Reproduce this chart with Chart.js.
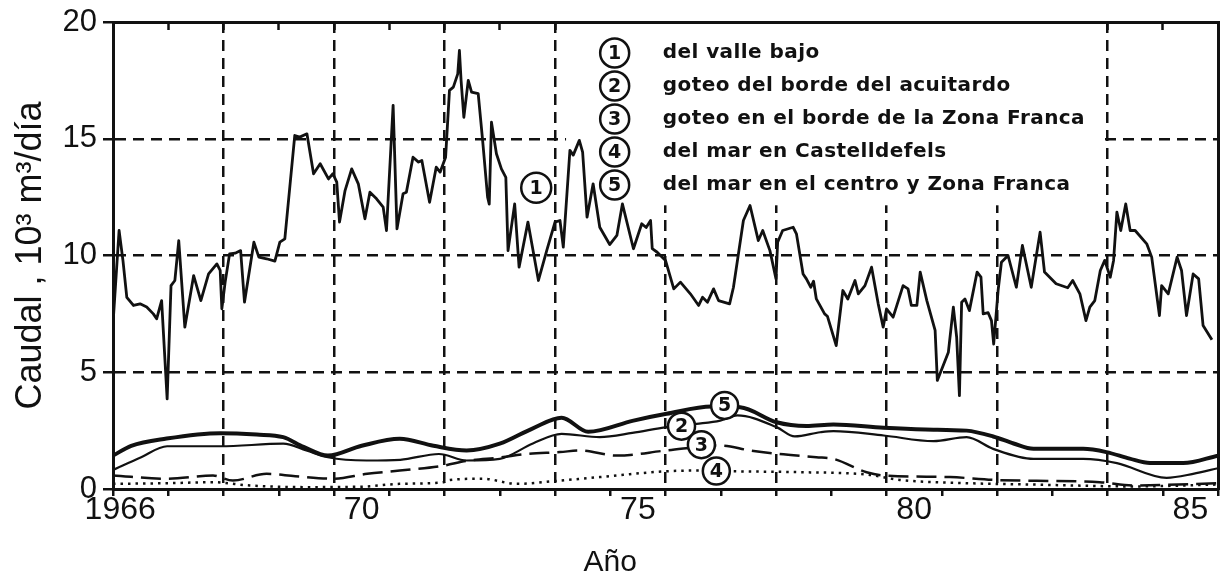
<!DOCTYPE html>
<html>
<head>
<meta charset="utf-8">
<script src="https://cdn.jsdelivr.net/npm/chart.js@4.4.1/dist/chart.umd.min.js"></script>
<style>
  html, body { margin: 0; padding: 0; background: #fff; }
  #wrap { width: 1221px; height: 575px; }
</style>
</head>
<body>
<div id="wrap"><canvas id="caudalChart" width="1221" height="575"></canvas></div>
<script>
// ---- data ----
// 1: del valle bajo (monthly, jagged)
const valleYears = [
  1966.00, 1966.11, 1966.18, 1966.25, 1966.37, 1966.49, 1966.61, 1966.73, 1966.79, 1966.88, 1966.98,
  1967.05, 1967.12, 1967.19, 1967.30, 1967.46, 1967.59, 1967.73, 1967.88, 1967.94, 1967.97,
  1968.03, 1968.11, 1968.21, 1968.31, 1968.38, 1968.55, 1968.64, 1968.78, 1968.93,
  1969.02, 1969.11, 1969.29, 1969.38, 1969.51, 1969.63, 1969.75, 1969.90, 1969.98,
  1970.05, 1970.10, 1970.20, 1970.32, 1970.44, 1970.56, 1970.65, 1970.77, 1970.89, 1970.95,
  1971.07, 1971.14, 1971.25, 1971.31, 1971.43, 1971.53, 1971.59, 1971.73, 1971.85, 1971.92,
  1972.02, 1972.09, 1972.16, 1972.24, 1972.27, 1972.30, 1972.35, 1972.43, 1972.49, 1972.61, 1972.69, 1972.78, 1972.81, 1972.85, 1972.94,
  1973.03, 1973.11, 1973.15, 1973.27, 1973.35, 1973.51, 1973.70, 1973.85,
  1974.00, 1974.09, 1974.15, 1974.27, 1974.33, 1974.44, 1974.50, 1974.58, 1974.69, 1974.81, 1974.99,
  1975.12, 1975.22, 1975.42, 1975.57, 1975.65, 1975.73, 1975.76, 1975.85,
  1976.00, 1976.15, 1976.27, 1976.45, 1976.60, 1976.67, 1976.76, 1976.87, 1976.96,
  1977.16, 1977.23, 1977.41, 1977.53, 1977.68, 1977.76, 1977.89,
  1978.00, 1978.03, 1978.12, 1978.31, 1978.37, 1978.49, 1978.55, 1978.63, 1978.68, 1978.73, 1978.88, 1978.93,
  1979.09, 1979.21, 1979.30, 1979.43, 1979.49, 1979.61, 1979.73, 1979.85, 1979.94,
  1980.00, 1980.12, 1980.30, 1980.39, 1980.45, 1980.55, 1980.61, 1980.73, 1980.88, 1980.92,
  1981.12, 1981.21, 1981.27, 1981.32, 1981.36, 1981.42, 1981.50, 1981.64, 1981.71, 1981.75, 1981.84, 1981.90, 1981.94,
  1982.02, 1982.08, 1982.20, 1982.35, 1982.46, 1982.62, 1982.78, 1982.86,
  1983.07, 1983.28, 1983.37, 1983.50, 1983.61, 1983.68, 1983.77, 1983.87, 1983.95,
  1984.05, 1984.11, 1984.17, 1984.24, 1984.33, 1984.41, 1984.50, 1984.71, 1984.80, 1984.94, 1984.98,
  1985.10, 1985.26, 1985.34, 1985.43, 1985.55, 1985.65, 1985.73, 1985.89
];
const valleFlow = [
  7.07, 11.07, 9.79, 8.21, 7.86, 7.93, 7.79, 7.50, 7.29, 8.07, 3.86,
  8.71, 8.93, 10.64, 6.93, 9.14, 8.07, 9.21, 9.64, 9.36, 7.72,
  8.86, 10.07, 10.10, 10.21, 8.00, 10.57, 9.93, 9.86, 9.76,
  10.57, 10.71, 15.14, 15.07, 15.21, 13.50, 13.93, 13.28, 13.50,
  13.14, 11.43, 12.78, 13.71, 13.07, 11.57, 12.71, 12.43, 12.07, 11.07,
  16.43, 11.14, 12.64, 12.71, 14.21, 14.00, 14.07, 12.28, 13.78, 13.57,
  14.21, 17.07, 17.21, 17.78, 18.78, 17.50, 15.92, 17.50, 17.00, 16.93, 14.93, 12.50, 12.20, 15.71, 14.36,
  13.71, 13.35, 10.21, 12.21, 9.50, 11.43, 8.93, 10.21,
  11.43, 11.50, 10.36, 14.50, 14.30, 14.93, 14.43, 11.64, 13.07, 11.21, 10.47,
  10.86, 12.21, 10.29, 11.36, 11.20, 11.50, 10.29, 10.14,
  9.79, 8.57, 8.86, 8.36, 7.86, 8.21, 8.00, 8.57, 8.07,
  7.93, 8.64, 11.50, 12.14, 10.64, 11.07, 10.21,
  9.00, 10.57, 11.07, 11.21, 10.93, 9.21, 9.00, 8.64, 8.90, 8.14, 7.50, 7.40,
  6.14, 8.50, 8.14, 8.93, 8.36, 8.71, 9.50, 7.93, 6.93,
  7.71, 7.36, 8.71, 8.57, 7.86, 7.86, 9.29, 8.07, 6.79, 4.65,
  5.86, 7.79, 6.50, 4.00, 8.00, 8.14, 7.64, 9.29, 9.07, 7.50, 7.55, 7.21, 6.21,
  8.50, 9.71, 10.00, 8.64, 10.43, 8.64, 11.00, 9.29,
  8.79, 8.62, 8.93, 8.36, 7.21, 7.79, 8.07, 9.36, 9.79,
  9.07, 9.79, 11.86, 11.07, 12.21, 11.07, 11.07, 10.50, 9.93, 7.43, 8.71,
  8.36, 9.93, 9.36, 7.43, 9.21, 9.00, 7.00, 6.39
];

// 2: goteo del borde del acuitardo (thin solid)
const acuitardoYears = [1966.0, 1966.5, 1966.98, 1967.94, 1969.08, 1969.5, 1969.89, 1970.59, 1971.2, 1971.9, 1972.4, 1973.0, 1973.6, 1974.12, 1974.81, 1975.4, 1976.02, 1976.56, 1976.99, 1977.3, 1978.01, 1978.34, 1978.8, 1979.04, 1979.95, 1980.85, 1981.45, 1981.93, 1982.66, 1983.56, 1984.17, 1985.07, 1985.55, 1986.0];
const acuitardoFlow = [0.82, 1.35, 1.83, 1.83, 1.94, 1.65, 1.36, 1.22, 1.25, 1.5, 1.22, 1.29, 1.95, 2.36, 2.22, 2.4, 2.65, 2.79, 2.93, 3.15, 2.65, 2.25, 2.43, 2.48, 2.29, 2.05, 2.22, 1.72, 1.29, 1.29, 1.11, 0.48, 0.65, 0.89];

// 3: goteo en el borde de la Zona Franca (dashed)
const zonaFrancaYears = [1966.0, 1966.98, 1967.81, 1968.17, 1968.78, 1969.3, 1969.98, 1970.6, 1971.19, 1971.98, 1972.4, 1973.0, 1973.5, 1974.09, 1974.45, 1975.12, 1976.02, 1976.99, 1977.53, 1978.01, 1978.73, 1979.04, 1979.64, 1979.95, 1981.15, 1981.93, 1983.86, 1984.46, 1986.0];
const zonaFrancaFlow = [0.58, 0.44, 0.58, 0.36, 0.65, 0.55, 0.44, 0.65, 0.79, 1.0, 1.2, 1.35, 1.5, 1.58, 1.65, 1.43, 1.65, 1.86, 1.65, 1.51, 1.36, 1.29, 0.72, 0.58, 0.51, 0.39, 0.29, 0.15, 0.25];

// 4: del mar en Castelldefels (dotted)
const castelldefelsYears = [1966.0, 1967.0, 1967.81, 1968.48, 1969.5, 1970.5, 1971.19, 1971.98, 1972.1, 1972.7, 1973.3, 1974.09, 1974.81, 1976.02, 1976.62, 1977.23, 1978.43, 1979.64, 1980.24, 1981.45, 1982.66, 1984.46, 1986.0];
const castelldefelsFlow = [0.22, 0.25, 0.29, 0.15, 0.08, 0.1, 0.22, 0.29, 0.39, 0.44, 0.22, 0.36, 0.51, 0.76, 0.79, 0.76, 0.72, 0.62, 0.39, 0.25, 0.19, 0.11, 0.19];

// 5: del mar en el centro y Zona Franca (thick solid)
const centroYears = [1966.0, 1966.33, 1966.97, 1967.94, 1968.6, 1969.08, 1969.45, 1969.89, 1970.5, 1971.19, 1971.8, 1972.4, 1973.0, 1973.6, 1974.12, 1974.6, 1975.42, 1976.02, 1976.84, 1977.35, 1978.01, 1978.55, 1979.04, 1979.95, 1980.7, 1981.45, 1981.93, 1982.3, 1982.66, 1983.56, 1983.98, 1984.4, 1984.77, 1985.37, 1986.0];
const centroFlow = [1.43, 1.85, 2.16, 2.39, 2.33, 2.22, 1.8, 1.43, 1.85, 2.15, 1.85, 1.65, 1.94, 2.6, 3.05, 2.45, 2.93, 3.22, 3.53, 3.5, 2.86, 2.7, 2.76, 2.62, 2.55, 2.5, 2.25, 1.95, 1.72, 1.72, 1.58, 1.3, 1.11, 1.11, 1.43];

// key texts and axis labels
const keyTexts = [
  'del valle bajo',
  'goteo del borde del acuitardo',
  'goteo en el borde de la Zona Franca',
  'del mar en Castelldefels',
  'del mar en el centro y Zona Franca'
];
const yearLabelPos = [1966.13, 1970.5, 1975.5, 1980.5, 1985.5];
const yearLabels = ['1966', '70', '75', '80', '85'];
const yTickValues = [0, 5, 10, 15, 20];

// circled series numbers placed on the plot: [year, value, label]
const tagYears = [1973.66, 1977.07, 1976.29, 1976.65, 1976.92];
const tagValues = [12.9, 3.58, 2.69, 1.9, 0.77];
const tagLabels = ['1', '5', '2', '3', '4'];

// ---- styling ----
const INK = '#111';
const NONE = 'rgba(0,0,0,0)';
const GRID_DASH = [11, 7];
const FONT = 'Liberation Sans';

const toPoints = (xs, ys) => xs.map((x, i) => ({ x: x, y: ys[i] }));

const circled = (ctx, cx, cy, label, r) => {
  ctx.beginPath();
  ctx.arc(cx, cy, r, 0, Math.PI * 2);
  ctx.fillStyle = '#fff';
  ctx.fill();
  ctx.lineWidth = 2.5;
  ctx.strokeStyle = INK;
  ctx.stroke();
  ctx.fillStyle = INK;
  ctx.font = 'bold 19px "DejaVu Sans"';
  ctx.textAlign = 'center';
  ctx.textBaseline = 'middle';
  ctx.fillText(label, cx, cy + 1);
};

const keyPlugin = {
  id: 'keyPlugin',
  beforeDatasetsDraw(chart) {
    const { ctx, chartArea, scales } = chart;
    const x = scales.x;
    const y = scales.y;
    // white panel that interrupts the grid behind the key
    const left = x.getPixelForValue(1974.2);
    const right = x.getPixelForValue(1983.85);
    const bottom = y.getPixelForValue(12.15);
    ctx.save();
    ctx.fillStyle = '#fff';
    ctx.fillRect(left, chartArea.top + 2, right - left, bottom - chartArea.top - 2);

    const cx = x.getPixelForValue(1975.08);
    const tx = x.getPixelForValue(1975.95);
    ctx.font = 'bold 20px "DejaVu Sans"';
    const longest = keyTexts[2];
    const natural = ctx.measureText(longest).width;
    const spacing = Math.max(0, (422 - natural) / (longest.length - 1));
    keyTexts.forEach((txt, i) => {
      const cy = chartArea.top + 31 + i * 33;
      circled(ctx, cx, cy, String(i + 1), 14.5);
      ctx.font = 'bold 20px "DejaVu Sans"';
      ctx.textAlign = 'left';
      ctx.textBaseline = 'middle';
      ctx.fillStyle = INK;
      ctx.letterSpacing = spacing.toFixed(2) + 'px';
      ctx.fillText(txt, tx, cy);
      ctx.letterSpacing = '0px';
    });
    ctx.restore();
  },
  afterDatasetsDraw(chart) {
    const { ctx, scales } = chart;
    ctx.save();
    tagLabels.forEach((label, i) => {
      const px = scales.x.getPixelForValue(tagYears[i]);
      const py = scales.y.getPixelForValue(tagValues[i]);
      circled(ctx, px, py, label, i === 0 ? 15 : 13.5);
    });
    // x-axis title, centred under 1975 as in the original
    ctx.fillStyle = INK;
    ctx.font = '30px "' + FONT + '"';
    ctx.textAlign = 'center';
    ctx.textBaseline = 'alphabetic';
    ctx.fillText('Año', scales.x.getPixelForValue(1975), 571);
    ctx.restore();
  }
};

const ctx = document.getElementById('caudalChart').getContext('2d');

new Chart(ctx, {
  type: 'line',
  data: {
    datasets: [
      {
        label: 'del valle bajo',
        data: toPoints(valleYears, valleFlow),
        borderColor: INK,
        borderWidth: 2.8,
        tension: 0,
        borderJoinStyle: 'round',
        xAxisID: 'x',
        yAxisID: 'y'
      },
      {
        label: 'goteo del borde del acuitardo',
        data: toPoints(acuitardoYears, acuitardoFlow),
        borderColor: INK,
        borderWidth: 2.2,
        cubicInterpolationMode: 'monotone',
        xAxisID: 'x',
        yAxisID: 'y'
      },
      {
        label: 'goteo en el borde de la Zona Franca',
        data: toPoints(zonaFrancaYears, zonaFrancaFlow),
        borderColor: INK,
        borderWidth: 2.5,
        borderDash: [20, 8],
        cubicInterpolationMode: 'monotone',
        xAxisID: 'x',
        yAxisID: 'y'
      },
      {
        label: 'del mar en Castelldefels',
        data: toPoints(castelldefelsYears, castelldefelsFlow),
        borderColor: INK,
        borderWidth: 2.5,
        borderDash: [2.5, 5],
        cubicInterpolationMode: 'monotone',
        xAxisID: 'x',
        yAxisID: 'y'
      },
      {
        label: 'del mar en el centro y Zona Franca',
        data: toPoints(centroYears, centroFlow),
        borderColor: INK,
        borderWidth: 4,
        cubicInterpolationMode: 'monotone',
        xAxisID: 'x',
        yAxisID: 'y'
      }
    ]
  },
  options: {
    responsive: false,
    animation: false,
    devicePixelRatio: 1,
    layout: { padding: 0 },
    elements: { point: { radius: 0 } },
    plugins: {
      legend: { display: false },
      tooltip: { enabled: false }
    },
    scales: {
      x: {
        type: 'linear',
        position: 'bottom',
        min: 1966,
        max: 1986,
        afterBuildTicks: (axis) => {
          const ticks = [];
          for (let yr = 1966; yr <= 1986; yr++) ticks.push({ value: yr });
          yearLabelPos.forEach(v => ticks.push({ value: v }));
          ticks.sort((a, b) => a.value - b.value);
          axis.ticks = ticks;
        },
        afterFit: (axis) => { axis.height = 86; },
        grid: {
          color: (c) => {
            const v = c.tick ? c.tick.value : null;
            return (Number.isInteger(v) && v % 2 === 0 && v > 1966 && v < 1986) ? INK : NONE;
          },
          lineWidth: 2.5,
          tickColor: (c) => (c.tick && Number.isInteger(c.tick.value)) ? INK : NONE,
          tickWidth: 2.5,
          tickLength: 7
        },
        border: { color: INK, width: 3, dash: GRID_DASH },
        ticks: {
          autoSkip: false,
          maxRotation: 0,
          padding: -2,
          color: INK,
          font: { family: FONT, size: 32, lineHeight: 1 },
          callback: (value) => {
            const i = yearLabelPos.indexOf(value);
            return i >= 0 ? yearLabels[i] : '';
          }
        }
      },
      xTop: {
        type: 'linear',
        axis: 'x',
        position: 'top',
        min: 1966,
        max: 1986,
        afterBuildTicks: (axis) => {
          const ticks = [];
          for (let yr = 1966; yr <= 1986; yr++) ticks.push({ value: yr });
          axis.ticks = ticks;
        },
        afterFit: (axis) => { axis.height = 22; },
        grid: { drawOnChartArea: false, color: INK, tickColor: INK, tickWidth: 2.5, tickLength: -8 },
        border: { color: INK, width: 3 },
        ticks: { display: false }
      },
      y: {
        type: 'linear',
        position: 'left',
        min: 0,
        max: 20,
        afterBuildTicks: (axis) => { axis.ticks = yTickValues.map(v => ({ value: v })); },
        afterFit: (axis) => { axis.width = 113; },
        grid: {
          color: (c) => (c.tick && c.tick.value > 0 && c.tick.value < 20) ? INK : NONE,
          lineWidth: 2.5,
          tickColor: INK,
          tickWidth: 2.5,
          tickLength: 10
        },
        border: { color: INK, width: 3, dash: GRID_DASH },
        ticks: {
          padding: 6,
          color: INK,
          font: { family: FONT, size: 31, lineHeight: 1 }
        },
        title: {
          display: true,
          text: 'Caudal , 10³ m³/día',
          color: INK,
          font: { family: FONT, size: 36, lineHeight: 1 },
          padding: { top: 13, bottom: 0 }
        }
      },
      yRight: {
        type: 'linear',
        axis: 'y',
        position: 'right',
        min: 0,
        max: 20,
        afterFit: (axis) => { axis.width = 3; },
        grid: { drawOnChartArea: false, drawTicks: false },
        border: { color: INK, width: 3 },
        ticks: { display: false }
      }
    }
  },
  plugins: [keyPlugin]
});
</script>
</body>
</html>
